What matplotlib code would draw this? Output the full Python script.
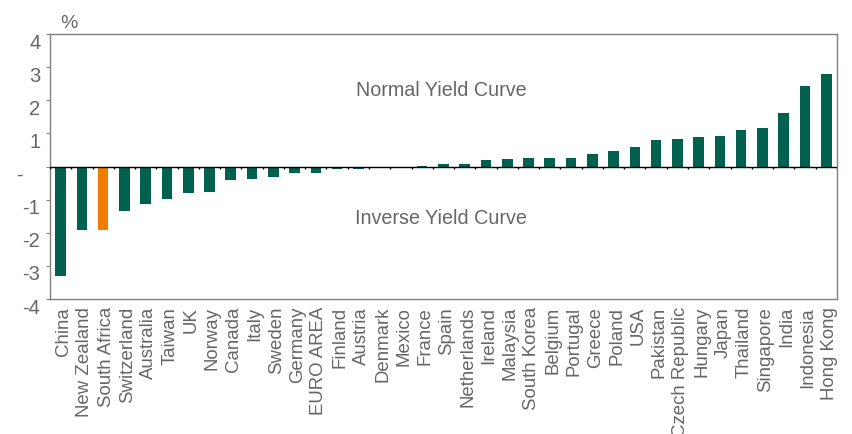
import numpy as np
import matplotlib.pyplot as plt
from matplotlib.transforms import ScaledTranslation

# Yield curve slope by country (%)
countries = ['China', 'New Zealand', 'South Africa', 'Switzerland', 'Australia',
             'Taiwan', 'UK', 'Norway', 'Canada', 'Italy', 'Sweden', 'Germany',
             'EURO AREA', 'Finland', 'Austria', 'Denmark', 'Mexico', 'France',
             'Spain', 'Netherlands', 'Ireland', 'Malaysia', 'South Korea',
             'Belgium', 'Portugal', 'Greece', 'Poland', 'USA', 'Pakistan',
             'Czech Republic', 'Hungary', 'Japan', 'Thailand', 'Singapore',
             'India', 'Indonesia', 'Hong Kong']
values = [-3.31, -1.93, -1.93, -1.34, -1.13, -0.98, -0.81, -0.76, -0.41, -0.38,
          -0.33, -0.19, -0.19, -0.06, -0.06, -0.04, -0.02, 0.02, 0.09, 0.09,
          0.19, 0.24, 0.25, 0.25, 0.26, 0.39, 0.48, 0.60, 0.81, 0.84, 0.88,
          0.91, 1.09, 1.15, 1.62, 2.42, 2.78]
highlight = 'South Africa'
yticks = [-4, -3, -2, -1, 0, 1, 2, 3, 4]
ytick_labels = ['-4', '-3', '-2', '-1', '-   ', '1', '2', '3', '4']

green = '#00614f'
orange = '#f07d00'
text_grey = '#666666'

plt.rcParams['font.family'] = ['Liberation Sans', 'DejaVu Sans']

fig = plt.figure(figsize=(8.53, 4.35), dpi=100)
ax = fig.add_axes([0.0586, 0.3103, 0.9225, 0.6092])

x = np.arange(len(countries))
colors = [orange if c == highlight else green for c in countries]
ax.bar(x, values, width=0.5, color=colors, zorder=2)

ax.set_xlim(-0.5, len(countries) - 0.5)
ax.set_ylim(-4, 4)

# zero line with small ticks at category boundaries
ax.axhline(0, color='black', linewidth=1, zorder=3)
ax.vlines(np.arange(len(countries) + 1) - 0.5, -0.09, 0, color='black',
          linewidth=1, zorder=3)

for s in ax.spines.values():
    s.set_color('#808080')
    s.set_linewidth(1)

ax.set_yticks(yticks)
ax.set_yticklabels(ytick_labels, fontsize=14.5, color=text_grey)
ax.tick_params(axis='y', direction='out', length=3, color='#808080', pad=4)
for lbl in ax.get_yticklabels():
    lbl.set_transform(lbl.get_transform() + ScaledTranslation(0, -6 / 100, fig.dpi_scale_trans))

ax.set_xticks(x)
ax.set_xticklabels(countries, rotation=90, fontsize=13.4, color=text_grey,
                   ha='center', va='top')
ax.tick_params(axis='x', length=0, pad=5)
for lbl in ax.get_xticklabels():
    lbl.set_transform(lbl.get_transform() + ScaledTranslation(3 / 100, 0, fig.dpi_scale_trans))

ax.text(0.497, 0.792, 'Normal Yield Curve', transform=ax.transAxes,
        ha='center', va='center', fontsize=14.2, color=text_grey)
ax.text(0.497, 0.309, 'Inverse Yield Curve', transform=ax.transAxes,
        ha='center', va='center', fontsize=14.2, color=text_grey)
fig.text(0.081, 0.946, '%', ha='center', va='center', fontsize=14, color=text_grey)

fig.savefig('out.png', dpi=100, facecolor='white')
